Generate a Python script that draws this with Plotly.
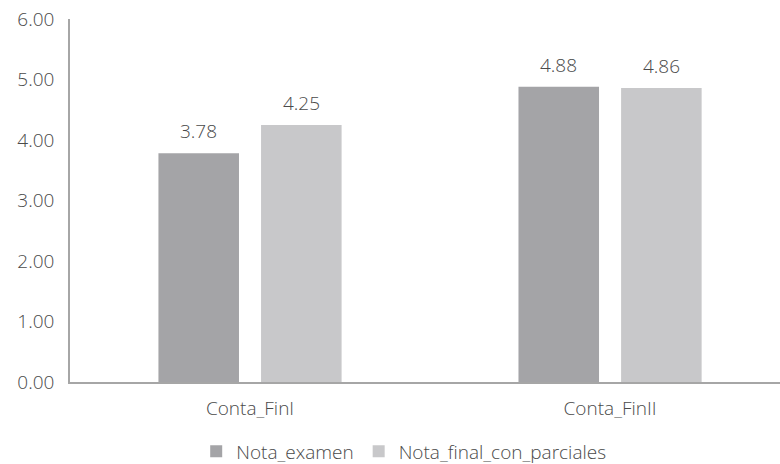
import plotly.graph_objects as go

# Average grades per course
categories = ["Conta_FinI", "Conta_FinII"]
nota_examen = [3.78, 4.88]
nota_final_con_parciales = [4.25, 4.86]
y_ticks = [0, 1, 2, 3, 4, 5, 6]

series = [
    ("Nota_examen", nota_examen, "#a4a4a7"),
    ("Nota_final_con_parciales", nota_final_con_parciales, "#c8c8ca"),
]

text_color = "#4a4a4a"
font_family = "Open Sans, Noto Sans, sans-serif"
font_size = 19
font_weight = 300
bargap = 0.43
bargroupgap = 0.215


def text_font():
    return dict(size=font_size, color=text_color, family=font_family, weight=font_weight)


fig = go.Figure()
for name, values, color in series:
    fig.add_trace(go.Bar(
        name=name, x=categories, y=values,
        marker=dict(color=color, line=dict(width=0)),
    ))

# value labels above each bar, placed at the centre of its group slot
slot = (1 - bargap) / len(series)
annotations = []
for k, (name, values, color) in enumerate(series):
    for i, v in enumerate(values):
        annotations.append(dict(
            x=i + (k - (len(series) - 1) / 2) * slot, y=v,
            xref="x", yref="y", text=f"{v:.2f}", showarrow=False,
            xanchor="center", yanchor="bottom", yshift=7,
            font=text_font(),
        ))

fig.update_layout(
    width=780, height=464,
    margin=dict(l=70, r=0, t=19, b=82, autoexpand=False),
    paper_bgcolor="white", plot_bgcolor="white",
    barmode="group", bargap=bargap, bargroupgap=bargroupgap,
    font=text_font(),
    showlegend=True,
    legend=dict(
        orientation="h", x=0.47, xanchor="center",
        yref="container", y=0.027, yanchor="middle",
        font=text_font(), itemwidth=30,
        traceorder="normal",
    ),
    annotations=annotations,
)
fig.update_xaxes(
    type="category", range=[-0.5, 1.472],
    showline=True, linecolor="#a6a6a6", linewidth=1.5,
    ticks="", showgrid=False, tickfont=text_font(),
    ticklabelstandoff=8,
)
fig.update_yaxes(
    range=[0, 6], tickvals=y_ticks, ticktext=[f"{v:.2f}" for v in y_ticks],
    showline=True, linecolor="#a6a6a6", linewidth=1.5,
    ticks="", showgrid=False, zeroline=False,
    tickfont=text_font(), ticklabelstandoff=10,
)

fig.write_html("out.html")
